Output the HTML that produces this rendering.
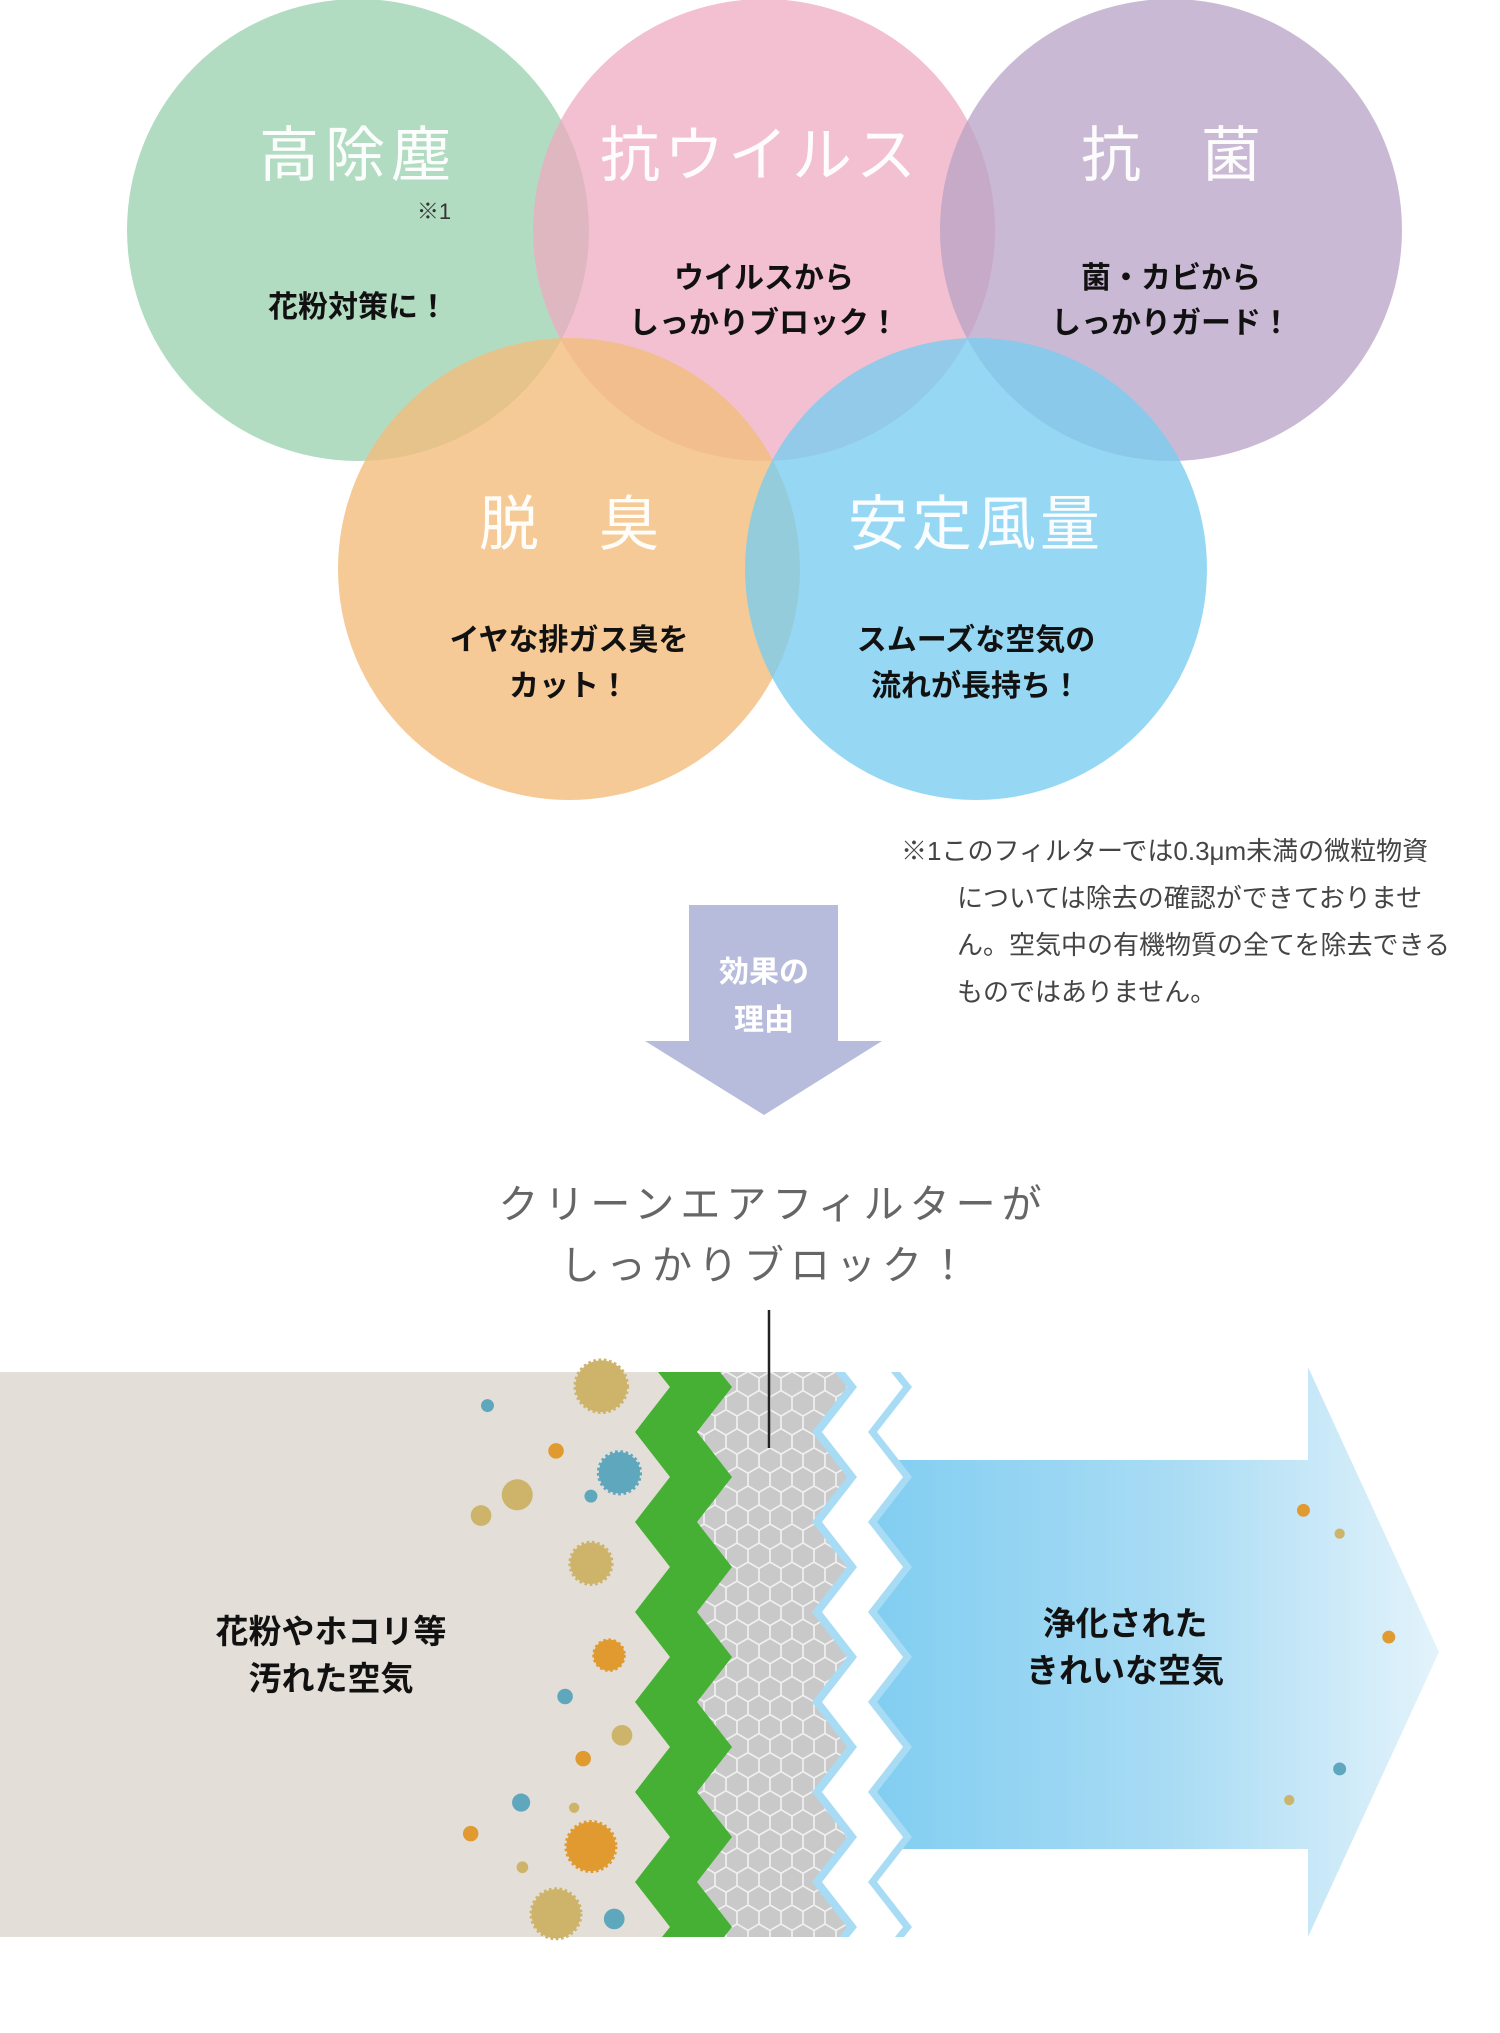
<!DOCTYPE html>
<html><head><meta charset="utf-8"><style>
html,body{margin:0;padding:0;background:#fff}
svg{display:block}
text{font-family:"Liberation Sans","Noto Sans CJK JP",sans-serif}
</style></head><body>
<svg width="1500" height="2033" viewBox="0 0 1500 2033" xmlns="http://www.w3.org/2000/svg">
<defs>
<pattern id="hex" width="22" height="38.1" patternUnits="userSpaceOnUse">
<rect width="22" height="38.1" fill="#c9c9ca"/>
<path d="M11 0 L22 6.35 L22 19.05 L11 25.4 L0 19.05 L0 6.35 Z M11 25.4 L11 38.1" fill="none" stroke="#f2f2f2" stroke-width="1.6"/>
</pattern>
<linearGradient id="bg" x1="0" x2="1" y1="0" y2="0">
<stop offset="0" stop-color="#7fcdf1"/><stop offset="0.55" stop-color="#aadcf4"/><stop offset="1" stop-color="#e3f3fb"/>
</linearGradient>
<polygon id="zz" points="-2000,1372 -12,1372 0,1387 -35,1432 0,1477 -35,1522 0,1567 -35,1612 0,1657 -35,1702 0,1747 -35,1792 0,1837 -35,1882 0,1927 -8,1937 -2000,1937"/>
</defs>

<g>
<circle cx="358" cy="230" r="231" fill="#9fd3b2" fill-opacity="0.8"/>
<circle cx="764" cy="230" r="231" fill="#eeabc0" fill-opacity="0.75"/>
<circle cx="1171" cy="230" r="231" fill="#b8a1c6" fill-opacity="0.75"/>
<circle cx="569" cy="569" r="231" fill="#f2bd7c" fill-opacity="0.8"/>
<circle cx="976" cy="569" r="231" fill="#78cdf0" fill-opacity="0.78"/>
</g>
<g font-size="60" fill="#fff" text-anchor="middle" fill-opacity="0.95">
<text x="358" y="176" letter-spacing="6">高除塵</text>
<text x="760" y="176" letter-spacing="4">抗ウイルス</text>
<text x="1171" y="176">抗　菌</text>
<text x="569" y="545">脱　臭</text>
<text x="976" y="545" letter-spacing="4">安定風量</text>
</g>
<text x="434" y="219" font-size="22" fill="#333" text-anchor="middle">※1</text>
<g font-size="30" fill="#111" text-anchor="middle" font-weight="bold">
<text x="358" y="317">花粉対策に！</text>
<text x="764" y="288">ウイルスから</text>
<text x="764" y="333">しっかりブロック！</text>
<text x="1171" y="288">菌・カビから</text>
<text x="1171" y="333">しっかりガード！</text>
<text x="569" y="650">イヤな排ガス臭を</text>
<text x="569" y="696">カット！</text>
<text x="976" y="650">スムーズな空気の</text>
<text x="976" y="696">流れが長持ち！</text>
</g>

<g font-size="26" fill="#444">
<text x="901" y="860">※1このフィルターでは0.3μm未満の微粒物資</text>
<text x="957" y="907">については除去の確認ができておりませ</text>
<text x="957" y="954">ん。空気中の有機物質の全てを除去できる</text>
<text x="957" y="1001">ものではありません。</text>
</g>

<polygon points="689,905 838,905 838,1041 882,1041 764,1115 645,1041 689,1041" fill="#b8bcdc"/>
<g font-size="30" fill="#fff" font-weight="bold" text-anchor="middle">
<text x="764" y="982">効果の</text>
<text x="764" y="1030">理由</text>
</g>

<g font-size="40" fill="#666" text-anchor="middle" letter-spacing="6">
<text x="773" y="1218">クリーンエアフィルターが</text>
<text x="767" y="1279">しっかりブロック！</text>
</g>

<polygon points="860,1460 1308,1460 1308,1367 1439,1652 1308,1937 1308,1849 860,1849" fill="url(#bg)"/>
<use href="#zz" transform="translate(912,0)" fill="#a8dcf4"/>
<use href="#zz" transform="translate(903,0)" fill="#ffffff"/>
<use href="#zz" transform="translate(857,0)" fill="#a8dcf4"/>
<use href="#zz" transform="translate(847,0)" fill="url(#hex)"/>
<use href="#zz" transform="translate(732,0)" fill="#46b035"/>
<use href="#zz" transform="translate(670,0)" fill="#e3dfd8"/>
<line x1="769" y1="1310" x2="769" y2="1448" stroke="#222" stroke-width="2.5"/>

<g transform="scale(1.2931)">
<circle cx="377" cy="1087" r="5" fill="#5ea7bd"/>
<circle cx="465" cy="1072" r="20" fill="#cdb46a" stroke="#cdb46a" stroke-width="3" stroke-dasharray="2 2"/>
<circle cx="430" cy="1122" r="6" fill="#e09a30"/>
<circle cx="479" cy="1139" r="16" fill="#5ea7bd" stroke="#5ea7bd" stroke-width="3" stroke-dasharray="2 2"/>
<circle cx="400" cy="1156" r="12" fill="#cdb46a"/>
<circle cx="372" cy="1172" r="8" fill="#cdb46a"/>
<circle cx="457" cy="1157" r="5" fill="#5ea7bd"/>
<circle cx="457" cy="1209" r="16" fill="#cdb46a" stroke="#cdb46a" stroke-width="3" stroke-dasharray="2 2"/>
<circle cx="471" cy="1280" r="12" fill="#e09a30" stroke="#e09a30" stroke-width="2" stroke-dasharray="2 2"/>
<circle cx="437" cy="1312" r="6" fill="#5ea7bd"/>
<circle cx="481" cy="1342" r="8" fill="#cdb46a"/>
<circle cx="451" cy="1360" r="6" fill="#e09a30"/>
<circle cx="403" cy="1394" r="7" fill="#5ea7bd"/>
<circle cx="444" cy="1398" r="4" fill="#cdb46a"/>
<circle cx="364" cy="1418" r="6" fill="#e09a30"/>
<circle cx="457" cy="1428" r="19" fill="#e09a30" stroke="#e09a30" stroke-width="3" stroke-dasharray="2 2"/>
<circle cx="404" cy="1444" r="4.5" fill="#cdb46a"/>
<circle cx="430" cy="1480" r="19" fill="#cdb46a" stroke="#cdb46a" stroke-width="3" stroke-dasharray="2 2"/>
<circle cx="475" cy="1484" r="8" fill="#5ea7bd"/>
<circle cx="1008" cy="1168" r="5" fill="#e09a30"/>
<circle cx="1036" cy="1186" r="4" fill="#cdb46a"/>
<circle cx="1074" cy="1266" r="5" fill="#e09a30"/>
<circle cx="1036" cy="1368" r="5" fill="#5ea7bd"/>
<circle cx="997" cy="1392" r="4" fill="#cdb46a"/>
</g>

<g font-size="33" fill="#111" font-weight="bold" text-anchor="middle">
<text x="331" y="1643">花粉やホコリ等</text>
<text x="331" y="1690">汚れた空気</text>
<text x="1125" y="1635">浄化された</text>
<text x="1125" y="1682">きれいな空気</text>
</g>
</svg>
</body></html>
